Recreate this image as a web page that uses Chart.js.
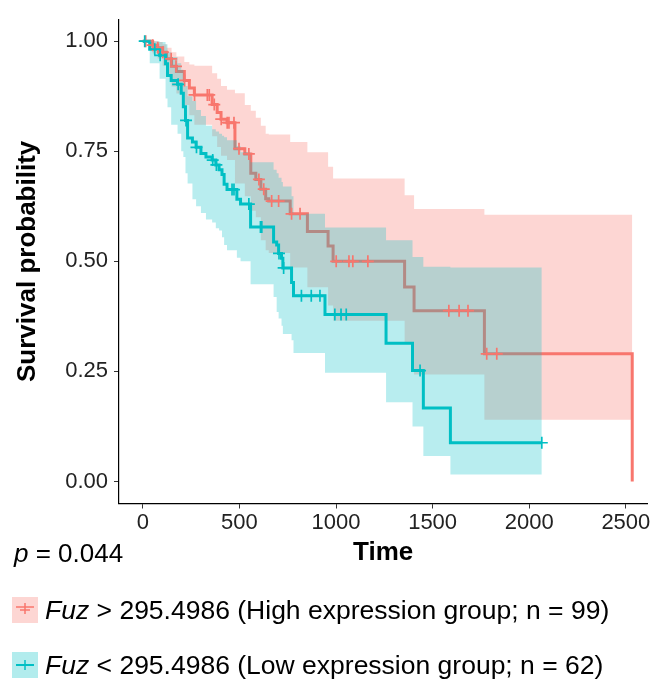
<!DOCTYPE html>
<html>
<head>
<meta charset="utf-8">
<script src="https://cdn.jsdelivr.net/npm/chart.js@4.4.0/dist/chart.umd.min.js"></script>
<style>
  body { margin: 0; background: #fff; font-family: "Liberation Sans", Arial, sans-serif; }
  #wrap { position: relative; width: 655px; height: 682px; }
  #km { position: absolute; left: 0; top: 0; }
  .pval { position: absolute; left: 14px; top: 538px; font-size: 26px; line-height: 30px; color: #000; }
  .leg { position: absolute; left: 12px; height: 30px; display: flex; align-items: center; font-size: 26.5px; color: #000; white-space: nowrap; }
  .leg svg { margin-right: 7px; }
</style>
</head>
<body>
<div id="wrap">
  <canvas id="km" width="655" height="580"></canvas>
  <div class="pval"><i>p</i> = 0.044</div>
  <div class="leg" style="top:595px">
    <svg width="26" height="26"><rect width="26" height="26" fill="rgba(248,118,109,0.3)"/><line x1="4" y1="10" x2="22" y2="10" stroke="#F8766D" stroke-width="1.5"/><line x1="13" y1="6" x2="13" y2="17" stroke="#F8766D" stroke-width="1.5"/><line x1="8" y1="13" x2="18" y2="13" stroke="#F8766D" stroke-width="1.5"/></svg>
    <span><i>Fuz</i> &gt; 295.4986 (High expression group; n = 99)</span>
  </div>
  <div class="leg" style="top:650px">
    <svg width="26" height="26"><rect width="26" height="26" fill="rgba(0,191,196,0.3)"/><line x1="4" y1="13" x2="22" y2="13" stroke="#00BFC4" stroke-width="2"/><line x1="13" y1="8" x2="13" y2="18" stroke="#00BFC4" stroke-width="1.5"/></svg>
    <span><i>Fuz</i> &lt; 295.4986 (Low expression group; n = 62)</span>
  </div>
</div>
<script>
// high expression group (red)
const highTimes = [0, 51, 77, 103, 123, 149, 174, 215, 241, 267, 359, 385, 405, 436, 477, 528, 559, 585, 611, 636, 652, 763, 852, 959, 985, 1355, 1404, 1768, 2533];
const highSurv = [1, 0.991, 0.985, 0.975, 0.960, 0.943, 0.931, 0.911, 0.894, 0.878, 0.856, 0.838, 0.823, 0.815, 0.756, 0.744, 0.700, 0.686, 0.664, 0.642, 0.637, 0.608, 0.568, 0.535, 0.500, 0.442, 0.388, 0.290, 0];
const highUpper = [1, 1, 0.998, 0.993, 0.985, 0.975, 0.965, 0.953, 0.947, 0.944, 0.927, 0.915, 0.898, 0.890, 0.882, 0.855, 0.842, 0.826, 0.808, 0.790, 0.788, 0.771, 0.748, 0.715, 0.688, 0.650, 0.619, 0.606, 0.606];
const highLower = [1, 0.972, 0.961, 0.944, 0.921, 0.897, 0.881, 0.855, 0.832, 0.810, 0.784, 0.760, 0.740, 0.730, 0.677, 0.648, 0.615, 0.600, 0.548, 0.525, 0.519, 0.486, 0.441, 0.400, 0.365, 0.314, 0.243, 0.140, 0.140];
const highCensor = [15, 51, 78, 104, 147, 172, 216, 268, 334, 344, 370, 406, 437, 446, 472, 498, 549, 601, 626, 667, 703, 770, 814, 1001, 1067, 1087, 1165, 1584, 1637, 1683, 1780, 1832];

// low expression group (cyan)
const lowTimes = [0, 36, 87, 118, 128, 147, 180, 199, 210, 221, 232, 257, 276, 301, 327, 359, 378, 395, 410, 421, 436, 487, 506, 558, 677, 693, 703, 718, 725, 770, 780, 943, 1259, 1396, 1452, 1592, 2065];
const lowSurv = [1, 0.982, 0.968, 0.949, 0.922, 0.911, 0.902, 0.882, 0.851, 0.820, 0.780, 0.771, 0.759, 0.745, 0.737, 0.730, 0.719, 0.708, 0.697, 0.675, 0.663, 0.641, 0.630, 0.578, 0.544, 0.537, 0.518, 0.507, 0.485, 0.452, 0.422, 0.379, 0.314, 0.252, 0.167, 0.088, 0.088];
const lowUpper = [1, 1, 0.998, 0.993, 0.975, 0.964, 0.950, 0.935, 0.915, 0.898, 0.875, 0.864, 0.844, 0.830, 0.808, 0.800, 0.795, 0.790, 0.785, 0.782, 0.775, 0.762, 0.748, 0.725, 0.708, 0.700, 0.690, 0.680, 0.670, 0.648, 0.608, 0.577, 0.548, 0.510, 0.488, 0.486, 0.486];
const lowLower = [1, 0.950, 0.915, 0.870, 0.850, 0.810, 0.790, 0.750, 0.737, 0.700, 0.677, 0.641, 0.625, 0.610, 0.595, 0.588, 0.575, 0.570, 0.555, 0.537, 0.525, 0.508, 0.500, 0.448, 0.419, 0.385, 0.370, 0.354, 0.335, 0.321, 0.292, 0.247, 0.180, 0.125, 0.058, 0.016, 0.016];
const lowCensor = [10, 62, 90, 183, 224, 278, 362, 381, 462, 472, 549, 609, 616, 705, 729, 821, 872, 917, 994, 1026, 1053, 1435, 2065];

const xTicks = [0, 500, 1000, 1500, 2000, 2500];
const yTicks = [0, 0.25, 0.5, 0.75, 1];

const RED = "#F8766D";
const CYAN = "#00BFC4";

function pts(times, vals) {
  return times.map((t, i) => ({ x: t, y: vals[i] }));
}

// value of a step curve at time t
function survAt(times, surv, t) {
  let s = surv[0];
  for (let i = 0; i < times.length; i++) {
    if (times[i] <= t) s = surv[i];
  }
  return s;
}

function censorPts(cens, times, surv) {
  return cens.map(t => ({ x: t, y: survAt(times, surv, t) }));
}

function band(data, color, order, fill) {
  return {
    data: data, stepped: true, borderWidth: 0, pointRadius: 0,
    backgroundColor: color, fill: fill, order: order
  };
}

Chart.defaults.font.family = '"Liberation Sans", Arial, sans-serif';

new Chart(document.getElementById("km"), {
  type: "line",
  data: {
    datasets: [
      band(pts(highTimes, highUpper), "rgba(248,118,109,0.3)", 10, "+1"),
      band(pts(highTimes, highLower), "rgba(0,0,0,0)", 9, false),
      { data: pts(highTimes, highSurv), stepped: true, borderColor: RED, borderWidth: 3, pointRadius: 0, fill: false, order: 8 },
      band(pts(lowTimes, lowUpper), "rgba(0,191,196,0.28)", 7, "+1"),
      band(pts(lowTimes, lowLower), "rgba(0,0,0,0)", 6, false),
      { data: pts(lowTimes, lowSurv), stepped: true, borderColor: CYAN, borderWidth: 3, pointRadius: 0, fill: false, order: 5 },
      { data: censorPts(highCensor, highTimes, highSurv), showLine: false, pointStyle: "cross", pointRadius: 6, pointBorderWidth: 1.7, borderColor: RED, order: 4 },
      { data: censorPts(lowCensor, lowTimes, lowSurv), showLine: false, pointStyle: "cross", pointRadius: 6, pointBorderWidth: 1.7, borderColor: CYAN, order: 3 }
    ]
  },
  options: {
    responsive: false,
    animation: false,
    events: [],
    layout: { padding: { top: 9.5, right: 3, left: 0, bottom: 0 } },
    plugins: { legend: { display: false }, tooltip: { enabled: false } },
    scales: {
      x: {
        type: "linear",
        min: -123, max: 2611,
        afterFit: s => { s.height = 76.5; },
        afterBuildTicks: s => { s.ticks = xTicks.map(v => ({ value: v })); },
        ticks: { font: { size: 22 }, color: "#222", padding: 1, maxRotation: 0, callback: v => String(v) },
        grid: { drawOnChartArea: false, drawTicks: true, tickLength: 5, color: "#333" },
        border: { display: true, color: "#000", width: 1.2 },
        title: { display: true, text: "Time", color: "#000", font: { size: 26, weight: "bold" }, padding: { top: 0, bottom: 11.4 } }
      },
      y: {
        min: -0.05, max: 1.05,
        afterFit: s => { s.width = 119; },
        afterBuildTicks: s => { s.ticks = yTicks.map(v => ({ value: v })); },
        ticks: { font: { size: 22 }, color: "#222", padding: 6, callback: v => v.toFixed(2) },
        grid: { drawOnChartArea: false, drawTicks: true, tickLength: 5, color: "#333" },
        border: { display: true, color: "#000", width: 1.2 },
        title: { display: true, text: "Survival probability", color: "#000", font: { size: 26, weight: "bold" }, padding: { top: 12.4, bottom: 0 } }
      }
    }
  }
});
</script>
</body>
</html>
